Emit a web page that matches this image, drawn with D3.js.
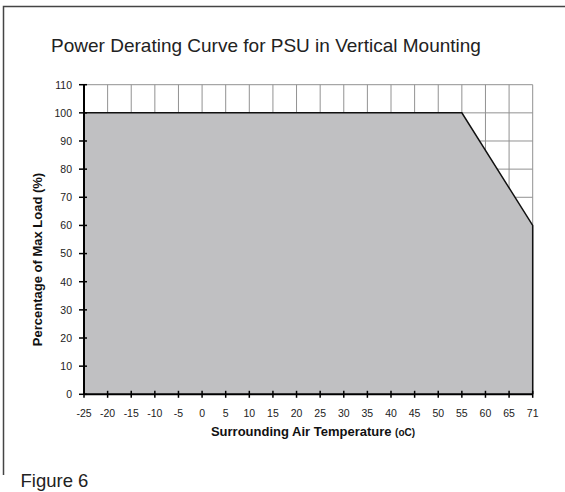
<!DOCTYPE html>
<html>
<head>
<meta charset="utf-8">
<script src="https://cdn.jsdelivr.net/npm/d3@7"></script>
<style>
  body { margin: 0; background: #fff; }
  svg { display: block; font-family: "Liberation Sans", Arial, sans-serif; }
</style>
</head>
<body>
<div class="canvas"></div>
<script>
// x axis is a category axis (equal spacing, last one is 71)
const categories = ["-25", "-20", "-15", "-10", "-5", "0", "5", "10", "15", "20", "25",
                    "30", "35", "40", "45", "50", "55", "60", "65", "71"]
const yTicks = [0, 10, 20, 30, 40, 50, 60, 70, 80, 90, 100, 110]

// derating curve points
const curveTemps = ["-25", "55", "71"]
const curveLoad = [100, 100, 60]

const W = 565, H = 492

const svg = d3.select(".canvas").append("svg")
    .attr("width", W)
    .attr("height", H)

const x = d3.scalePoint().domain(categories).range([84, 532.7])
const y = d3.scaleLinear().domain([0, 110]).range([394.3, 84.7])

// frame (top + left only)
svg.append("path")
    .attr("d", `M3.5,475 L3.5,6.5 L565,6.5`)
    .attr("fill", "none")
    .attr("stroke", "#444")
    .attr("stroke-width", 1.5)

// title
svg.append("text")
    .attr("x", 266)
    .attr("y", 52)
    .attr("text-anchor", "middle")
    .attr("font-size", 19)
    .attr("fill", "#222")
    .text("Power Derating Curve for PSU in Vertical Mounting")

// grid
const grid = svg.append("g").attr("stroke", "#929292").attr("stroke-width", 1)
grid.selectAll("line.h")
    .data(yTicks.filter(d => d > 0))
    .enter().append("line")
    .attr("x1", x(categories[0]))
    .attr("x2", x(categories[categories.length - 1]))
    .attr("y1", d => y(d))
    .attr("y2", d => y(d))
grid.selectAll("line.v")
    .data(categories.slice(1))
    .enter().append("line")
    .attr("x1", d => x(d))
    .attr("x2", d => x(d))
    .attr("y1", y(0))
    .attr("y2", y(110))

// area under curve
const pts = curveTemps.map((t, i) => ({ t: t, v: curveLoad[i] }))
const area = d3.area()
    .x(d => x(d.t))
    .y0(y(0))
    .y1(d => y(d.v))
svg.append("path")
    .datum(pts)
    .attr("d", area)
    .attr("fill", "#c0c0c2")
    .attr("stroke", "none")

const line = d3.line().x(d => x(d.t)).y(d => y(d.v))
svg.append("path")
    .datum(pts.concat([{ t: curveTemps[curveTemps.length - 1], v: 0 }]))
    .attr("d", line)
    .attr("fill", "none")
    .attr("stroke", "#111")
    .attr("stroke-width", 1.5)

// y axis
const yAxis = svg.append("g")
yAxis.append("line")
    .attr("x1", 84).attr("x2", 84)
    .attr("y1", y(0)).attr("y2", y(110))
    .attr("stroke", "#000").attr("stroke-width", 2)
yAxis.selectAll("line.tick")
    .data(yTicks)
    .enter().append("line")
    .attr("x1", 79).attr("x2", 87)
    .attr("y1", d => y(d)).attr("y2", d => y(d))
    .attr("stroke", "#000").attr("stroke-width", 1.5)
yAxis.selectAll("text")
    .data(yTicks)
    .enter().append("text")
    .attr("x", 72)
    .attr("y", d => y(d) + 3.8)
    .attr("text-anchor", "end")
    .attr("font-size", 10.5)
    .attr("fill", "#222")
    .text(d => d)

// x axis
const xAxis = svg.append("g")
xAxis.append("line")
    .attr("x1", x(categories[0])).attr("x2", x(categories[categories.length - 1]))
    .attr("y1", y(0)).attr("y2", y(0))
    .attr("stroke", "#000").attr("stroke-width", 2)
xAxis.selectAll("line.tick")
    .data(categories)
    .enter().append("line")
    .attr("x1", d => x(d)).attr("x2", d => x(d))
    .attr("y1", y(0) - 3.5).attr("y2", y(0) + 3.5)
    .attr("stroke", "#000").attr("stroke-width", 1.5)
xAxis.selectAll("text")
    .data(categories)
    .enter().append("text")
    .attr("x", d => x(d))
    .attr("y", 416.5)
    .attr("text-anchor", "middle")
    .attr("font-size", 10.5)
    .attr("fill", "#222")
    .text(d => d)

// axis titles
const xt = svg.append("text")
    .attr("x", 313)
    .attr("y", 436)
    .attr("text-anchor", "middle")
    .attr("font-size", 13)
    .attr("font-weight", "bold")
    .attr("fill", "#111")
xt.append("tspan").text("Surrounding Air Temperature ")
xt.append("tspan").attr("font-size", 10).text("(oC)")

svg.append("text")
    .attr("transform", "translate(42,259.5) rotate(-90)")
    .attr("text-anchor", "middle")
    .attr("font-size", 13)
    .attr("font-weight", "bold")
    .attr("fill", "#111")
    .text("Percentage of Max Load (%)")

// caption
svg.append("text")
    .attr("x", 20.5)
    .attr("y", 486.5)
    .attr("font-size", 18.5)
    .attr("fill", "#222")
    .text("Figure 6")
</script>
</body>
</html>
